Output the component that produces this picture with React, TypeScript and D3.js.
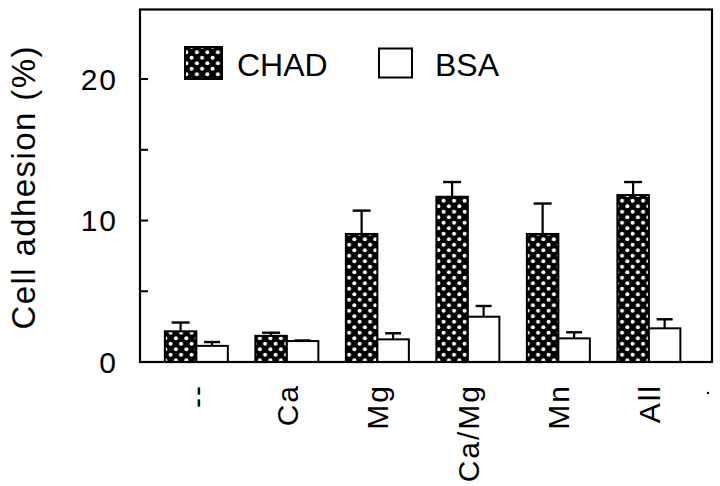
import React from "react";
import * as d3 from "d3";

const categories = ["--", "Ca", "Mg", "Ca/Mg", "Mn", "All"];
const seriesNames = ["CHAD", "BSA"];
const chadValues = [2.17, 1.85, 9.05, 11.68, 9.05, 11.8];
const chadErrors = [0.62, 0.22, 1.65, 1.04, 2.15, 0.92];
const bsaValues = [1.14, 1.48, 1.6, 3.2, 1.67, 2.38];
const bsaErrors = [0.27, 0.04, 0.43, 0.76, 0.43, 0.64];
const yTicks = [0, 5, 10, 15, 20];
const yTickLabels = [0, 10, 20];

const W = 720;
const H = 486;
const plot = { left: 140, right: 712, top: 9.5, bottom: 362 };
const FONT = "'Liberation Sans', Arial, Helvetica, sans-serif";

export default function App() {
  const x = d3
    .scaleBand<string>()
    .domain(categories)
    .range([plot.left, plot.right])
    .paddingInner(0.304)
    .paddingOuter(0.312)
    .align(0.44);
  const xs = d3.scaleBand<string>().domain(seriesNames).range([0, x.bandwidth()]).padding(0);
  const y = d3.scaleLinear().domain([0, 25]).range([plot.bottom, plot.top - 1.2]);

  const series = [
    { name: "CHAD", values: chadValues, errors: chadErrors, fill: "url(#dots)", cap: 18 },
    { name: "BSA", values: bsaValues, errors: bsaErrors, fill: "#fff", cap: 16 },
  ];

  return (
    <svg
      width={W}
      height={H}
      viewBox={`0 0 ${W} ${H}`}
      style={{ position: "absolute", left: 0, top: 0, background: "#fff" }}
    >
      <defs>
        <pattern id="dots" patternUnits="userSpaceOnUse" width={10.5} height={11}>
          <rect width={10.5} height={11} fill="#000" />
          <circle cx={2.6} cy={2.75} r={2} fill="#fff" />
          <circle cx={7.85} cy={8.25} r={2} fill="#fff" />
        </pattern>
      </defs>

      {/* bars */}
      {series.map((s) =>
        categories.map((c, i) => {
          const bx = (x(c) ?? 0) + (xs(s.name) ?? 0);
          const bw = xs.bandwidth();
          const cx = bx + bw / 2;
          const top = y(s.values[i]);
          const etop = y(s.values[i] + s.errors[i]);
          return (
            <g key={s.name + c}>
              <line x1={cx} x2={cx} y1={top} y2={etop} stroke="#000" strokeWidth={2.2} />
              <line x1={cx - s.cap / 2} x2={cx + s.cap / 2} y1={etop} y2={etop} stroke="#000" strokeWidth={2.4} />
              <rect
                x={bx}
                y={top}
                width={bw}
                height={plot.bottom - top}
                fill={s.fill}
                stroke="#000"
                strokeWidth={2}
              />
            </g>
          );
        })
      )}

      {/* frame */}
      <rect
        x={plot.left}
        y={plot.top}
        width={plot.right - plot.left}
        height={plot.bottom - plot.top}
        fill="none"
        stroke="#000"
        strokeWidth={2.2}
      />

      {/* y ticks */}
      {yTicks.map((t) => (
        <line key={t} x1={plot.left} x2={plot.left + 8} y1={y(t)} y2={y(t)} stroke="#000" strokeWidth={2} />
      ))}
      {yTickLabels.map((t) => (
        <text
          key={t}
          x={118}
          y={y(t)}
          dy="0.36em"
          textAnchor="end"
          fontFamily={FONT}
          fontSize={30}
          letterSpacing={2}
          fill="#000"
        >
          {t}
        </text>
      ))}

      {/* y label */}
      <text
        transform={`translate(35, 188) rotate(-90)`}
        textAnchor="middle"
        fontFamily={FONT}
        fontSize={33}
        textLength={283}
        lengthAdjust="spacing"
        fill="#000"
      >
        Cell adhesion (%)
      </text>

      {/* x labels */}
      {categories.map((c) => {
        const cx = (x(c) ?? 0) + x.bandwidth() / 2;
        return (
          <text
            key={c}
            transform={`translate(${cx}, 384) rotate(-90)`}
            textAnchor="end"
            dy="0.36em"
            fontFamily={FONT}
            fontSize={30}
            letterSpacing={2}
            fill="#000"
          >
            {c}
          </text>
        );
      })}
      <circle cx={708} cy={393} r={1.2} fill="#000" />

      {/* legend */}
      <rect x={185} y={47} width={37} height={32} fill="url(#dots)" stroke="#000" strokeWidth={2} />
      <text x={237} y={76} fontFamily={FONT} fontSize={32} fill="#000">
        CHAD
      </text>
      <rect x={379} y={48.5} width={33} height={29} fill="#fff" stroke="#000" strokeWidth={2} />
      <text x={435} y={76} fontFamily={FONT} fontSize={32} fill="#000">
        BSA
      </text>
    </svg>
  );
}
